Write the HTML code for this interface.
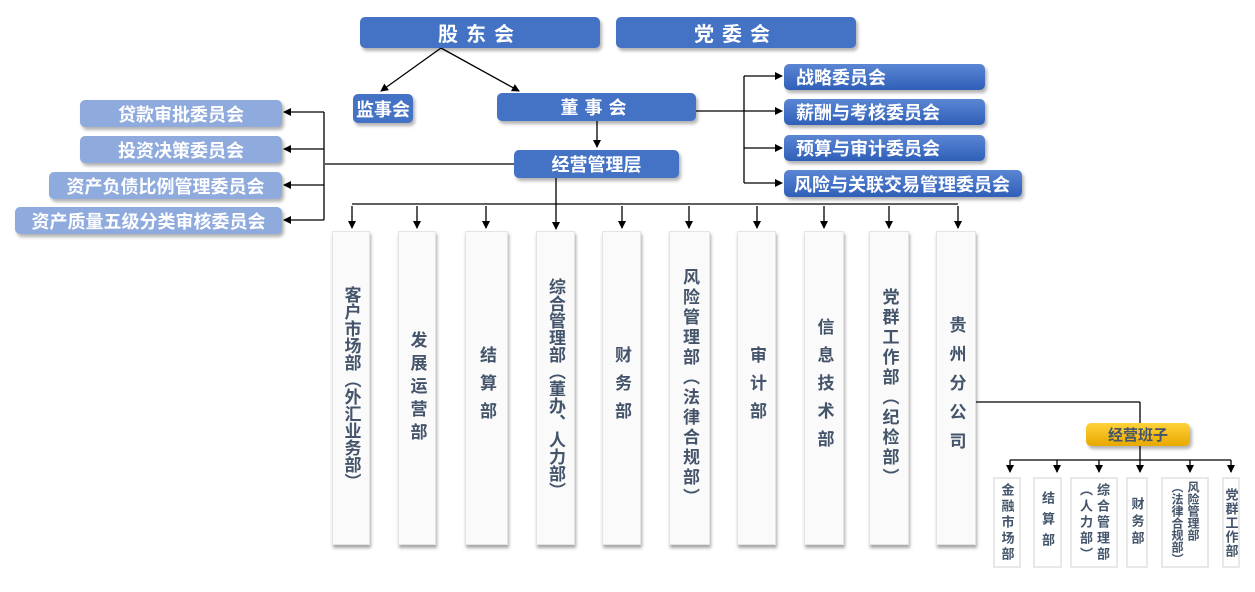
<!DOCTYPE html>
<html><head><meta charset="utf-8"><style>
body{margin:0;width:1255px;height:592px;background:#fff;position:relative;overflow:hidden;font-family:"Liberation Sans","Noto Sans CJK SC",sans-serif;}
.b{position:absolute;box-sizing:border-box;border-radius:5px;color:#fff;font-weight:bold;display:flex;align-items:center;box-shadow:2px 3px 3px rgba(0,0,0,.3);}
.blue{background:#4472c4;justify-content:center;}
.grad{background:linear-gradient(#5b86d4,#2f5fb8);padding-left:12px;font-size:18px;}
.lb{background:#8faadc;font-size:18px;justify-content:center;}
.d{position:absolute;box-sizing:border-box;background:#fafafa;border:1px solid #e4e4e4;box-shadow:1px 3px 3px rgba(0,0,0,.35);display:flex;align-items:center;justify-content:center;color:#44546a;font-weight:bold;font-size:17px;writing-mode:vertical-rl;text-orientation:upright;top:231px;height:314px;}
.s{position:absolute;box-sizing:border-box;background:#fff;border:2px solid #e8e8e8;display:flex;align-items:center;justify-content:center;color:#44546a;font-weight:bold;font-size:13px;line-height:17px;writing-mode:vertical-rl;text-orientation:upright;top:477px;height:91px;letter-spacing:3px;}
svg{position:absolute;left:0;top:0}
</style></head><body>
<svg width="1255" height="592">
<defs><marker id="a" markerWidth="8" markerHeight="8" refX="7" refY="4" orient="auto" markerUnits="userSpaceOnUse"><path d="M0,0L8,4L0,8z" fill="#000"/></marker></defs>
<g stroke="#000" stroke-width="1.3" fill="none">
<line x1="441" y1="48" x2="381" y2="91" marker-end="url(#a)"/>
<line x1="441" y1="48" x2="519" y2="91" marker-end="url(#a)"/>
<line x1="597" y1="121" x2="597" y2="147" marker-end="url(#a)"/>
<line x1="514" y1="164" x2="325" y2="164"/>
<line x1="324" y1="112" x2="324" y2="220"/>
<line x1="324" y1="112" x2="284" y2="112" marker-end="url(#a)"/>
<line x1="324" y1="149" x2="284" y2="149" marker-end="url(#a)"/>
<line x1="324" y1="185" x2="284" y2="185" marker-end="url(#a)"/>
<line x1="324" y1="220" x2="284" y2="220" marker-end="url(#a)"/>
<line x1="696" y1="111" x2="744" y2="111"/>
<line x1="744" y1="76" x2="744" y2="183"/>
<line x1="744" y1="76" x2="782" y2="76" marker-end="url(#a)"/>
<line x1="744" y1="111" x2="782" y2="111" marker-end="url(#a)"/>
<line x1="744" y1="148" x2="782" y2="148" marker-end="url(#a)"/>
<line x1="744" y1="183" x2="782" y2="183" marker-end="url(#a)"/>
<line x1="352" y1="204" x2="958" y2="204"/>
<line x1="556" y1="178" x2="556" y2="229" marker-end="url(#a)"/>
<line x1="352" y1="206" x2="352" y2="228" marker-end="url(#a)"/>
<line x1="417" y1="206" x2="417" y2="228" marker-end="url(#a)"/>
<line x1="486" y1="206" x2="486" y2="228" marker-end="url(#a)"/>
<line x1="622" y1="206" x2="622" y2="228" marker-end="url(#a)"/>
<line x1="689" y1="206" x2="689" y2="228" marker-end="url(#a)"/>
<line x1="757" y1="206" x2="757" y2="228" marker-end="url(#a)"/>
<line x1="824" y1="206" x2="824" y2="228" marker-end="url(#a)"/>
<line x1="889" y1="206" x2="889" y2="228" marker-end="url(#a)"/>
<line x1="958" y1="206" x2="958" y2="228" marker-end="url(#a)"/>
<line x1="976" y1="402" x2="1140" y2="402"/>
<line x1="1140" y1="402" x2="1140" y2="424"/>
<line x1="1140" y1="446" x2="1140" y2="472" marker-end="url(#a)"/>
<line x1="1010" y1="460" x2="1231" y2="460"/>
<line x1="1010" y1="460" x2="1010" y2="472" marker-end="url(#a)"/>
<line x1="1057" y1="460" x2="1057" y2="472" marker-end="url(#a)"/>
<line x1="1099" y1="460" x2="1099" y2="472" marker-end="url(#a)"/>
<line x1="1190" y1="460" x2="1190" y2="472" marker-end="url(#a)"/>
<line x1="1231" y1="460" x2="1231" y2="472" marker-end="url(#a)"/>
</g></svg>

<div class="b blue" style="left:360px;top:17px;width:240px;height:31px;font-size:20px;letter-spacing:8px">股东会</div>
<div class="b blue" style="left:616px;top:17px;width:240px;height:31px;font-size:20px;letter-spacing:8px">党委会</div>
<div class="b blue" style="left:353px;top:94px;width:60px;height:29px;font-size:18px">监事会</div>
<div class="b blue" style="left:497px;top:93px;width:199px;height:28px;font-size:18px;letter-spacing:6px">董事会</div>
<div class="b blue" style="left:514px;top:150px;width:165px;height:28px;font-size:18px">经营管理层</div>

<div class="b lb" style="left:80px;top:100px;width:202px;height:27px">贷款审批委员会</div>
<div class="b lb" style="left:80px;top:136px;width:202px;height:27px">投资决策委员会</div>
<div class="b lb" style="left:49px;top:172px;width:233px;height:27px">资产负债比例管理委员会</div>
<div class="b lb" style="left:15px;top:207px;width:267px;height:27px">资产质量五级分类审核委员会</div>

<div class="b grad" style="left:784px;top:64px;width:201px;height:26px">战略委员会</div>
<div class="b grad" style="left:784px;top:99px;width:201px;height:26px">薪酬与考核委员会</div>
<div class="b grad" style="left:784px;top:135px;width:201px;height:26px">预算与审计委员会</div>
<div class="b grad" style="left:784px;top:170px;width:238px;height:27px;padding-left:10px">风险与关联交易管理委员会</div>

<div class="d" style="left:332px;width:38px;letter-spacing:0px">客户市场部（外汇业务部）</div>
<div class="d" style="left:398px;width:38px;letter-spacing:6px">发展运营部</div>
<div class="d" style="left:465px;width:43px;letter-spacing:11px">结算部</div>
<div class="d" style="left:536px;width:39px;letter-spacing:0px">综合管理部（董办、人力部）</div>
<div class="d" style="left:602px;width:39px;letter-spacing:11px">财务部</div>
<div class="d" style="left:669px;width:41px;letter-spacing:3px">风险管理部（法律合规部）</div>
<div class="d" style="left:737px;width:39px;letter-spacing:11px">审计部</div>
<div class="d" style="left:804px;width:40px;letter-spacing:11px">信息技术部</div>
<div class="d" style="left:869px;width:40px;letter-spacing:3px">党群工作部（纪检部）</div>
<div class="d" style="left:936px;width:40px;letter-spacing:12px">贵州分公司</div>

<div class="b" style="left:1086px;top:423px;width:104px;height:23px;background:linear-gradient(#ffd23a,#e8a800);color:#44546a;justify-content:center;font-size:15px">经营班子</div>

<div class="s" style="left:993px;width:28px">金融市场部</div>
<div class="s" style="left:1033px;width:29px;letter-spacing:8px">结算部</div>
<div class="s" style="left:1070px;width:48px">综合管理部<br>（人力部）</div>
<div class="s" style="left:1126px;width:22px;letter-spacing:4px">财务部</div>
<div class="s" style="left:1161px;width:48px;letter-spacing:0;font-size:12px;line-height:16px">风险管理部<br>（法律合规部）</div>
<div class="s" style="left:1222px;width:18px;letter-spacing:1px">党群工作部</div>
</body></html>
